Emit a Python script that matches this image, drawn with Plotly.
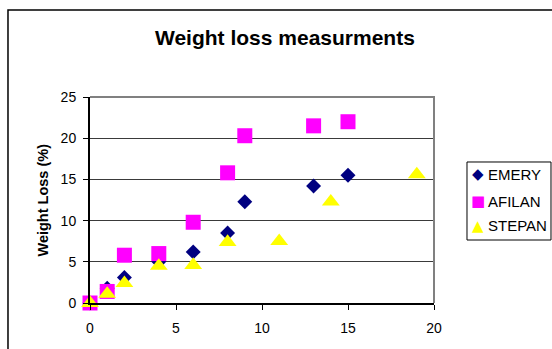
import plotly.graph_objects as go

# ---- data ----
emery_x = [0, 1, 2, 4, 6, 8, 9, 13, 15]
emery_y = [0, 1.8, 3.1, 5.0, 6.2, 8.5, 12.3, 14.2, 15.5]

afilan_x = [0, 1, 2, 4, 6, 8, 9, 13, 15]
afilan_y = [0, 1.4, 5.8, 6.0, 9.8, 15.8, 20.3, 21.5, 22.0]

stepan_x = [0, 1, 2, 4, 6, 8, 11, 14, 19]
stepan_y = [0, 1.1, 2.4, 4.5, 4.6, 7.4, 7.5, 12.3, 15.6]

series_names = ["EMERY", "AFILAN", "STEPAN"]
series_colors = ["#000080", "#FF00FF", "#FFFF00"]
legend_glyphs = ["\u25C6", "\u25A0", "\u25B2"]
x_ticks = [0, 5, 10, 15, 20]
y_ticks = [0, 5, 10, 15, 20, 25]

FONT = "Liberation Sans, Arial, sans-serif"

fig = go.Figure()
fig.add_trace(go.Scatter(x=emery_x, y=emery_y, mode="markers", name=series_names[0],
                         cliponaxis=False, showlegend=False,
                         marker=dict(symbol="diamond", size=11.5, color=series_colors[0],
                                     line=dict(width=0))))
fig.add_trace(go.Scatter(x=afilan_x, y=afilan_y, mode="markers", name=series_names[1],
                         cliponaxis=False, showlegend=False,
                         marker=dict(symbol="square", size=15, color=series_colors[1],
                                     line=dict(width=0))))
fig.add_trace(go.Scatter(x=stepan_x, y=stepan_y, mode="markers", name=series_names[2],
                         cliponaxis=False, showlegend=False,
                         marker=dict(symbol="triangle-up", size=15.5, color=series_colors[2],
                                     line=dict(width=0))))

# legend drawn as annotations (compact Excel-style legend)
legend_y = [0.6262, 0.4951, 0.3738]
annotations = [
    dict(text="<b>Weight loss measurments</b>", xref="paper", yref="paper",
         x=0.567, y=1.291, xanchor="center", yanchor="middle", showarrow=False,
         font=dict(family=FONT, size=21, color="black")),
    dict(text="<b>Weight Loss (%)</b>", xref="paper", yref="paper",
         x=-0.138, y=0.5, xanchor="center", yanchor="middle", showarrow=False,
         textangle=-90, font=dict(family=FONT, size=14.5, color="black")),
]
for name, col, glyph, ly in zip(series_names, series_colors, legend_glyphs, legend_y):
    annotations.append(dict(text=glyph, xref="paper", yref="paper", x=1.1279, y=ly,
                            xanchor="center", yanchor="middle", showarrow=False,
                            font=dict(family="DejaVu Sans", size=15, color=col)))
    annotations.append(dict(text=name, xref="paper", yref="paper", x=1.1512, y=ly,
                            xanchor="left", yanchor="middle", showarrow=False,
                            font=dict(family=FONT, size=15, color="black")))

# plot area at x 90..434, y 97..303 of the 552x349 page
fig.update_layout(
    width=552, height=349,
    margin=dict(l=90, r=118, t=97, b=46, autoexpand=False),
    paper_bgcolor="white", plot_bgcolor="white",
    font=dict(family=FONT, color="black", size=14),
    showlegend=False,
    hovermode=False,
    xaxis=dict(range=[0, 20], tickvals=x_ticks, showgrid=False, zeroline=False,
               showline=True, linecolor="black", linewidth=2,
               ticks="outside", ticklen=5, tickcolor="black", tickwidth=1,
               ticklabelstandoff=6,
               tickfont=dict(family=FONT, size=14, color="black")),
    yaxis=dict(range=[0, 25], tickvals=y_ticks, showgrid=True, gridcolor="#3a3a3a",
               gridwidth=1, zeroline=False,
               showline=True, linecolor="black", linewidth=2,
               ticks="outside", ticklen=5, tickcolor="black", tickwidth=1,
               ticklabelstandoff=4,
               tickfont=dict(family=FONT, size=14, color="black")),
    annotations=annotations,
    shapes=[
        # gray top/right border of plot area
        dict(type="path", xref="paper", yref="paper", layer="above",
             path="M 0,1 L 1,1 L 1,0", line=dict(color="#808080", width=2)),
        # outer chart border (left and top edges visible)
        dict(type="path", xref="paper", yref="paper", layer="above",
             path="M -0.2384,-0.35 L -0.2384,1.4223 L 1.45,1.4223",
             line=dict(color="black", width=1.5)),
        # legend box
        dict(type="rect", xref="paper", yref="paper", layer="above",
             x0=1.0959, x1=1.3401, y0=0.3058, y1=0.6845,
             line=dict(color="black", width=1), fillcolor="rgba(0,0,0,0)"),
    ],
)

page_css = ("document.documentElement.style.margin='0';"
            "document.documentElement.style.overflow='hidden';"
            "document.body.style.margin='0';"
            "document.body.style.overflow='hidden';")

fig.write_html("out.html", post_script=page_css,
               config={"displayModeBar": False, "staticPlot": True})
